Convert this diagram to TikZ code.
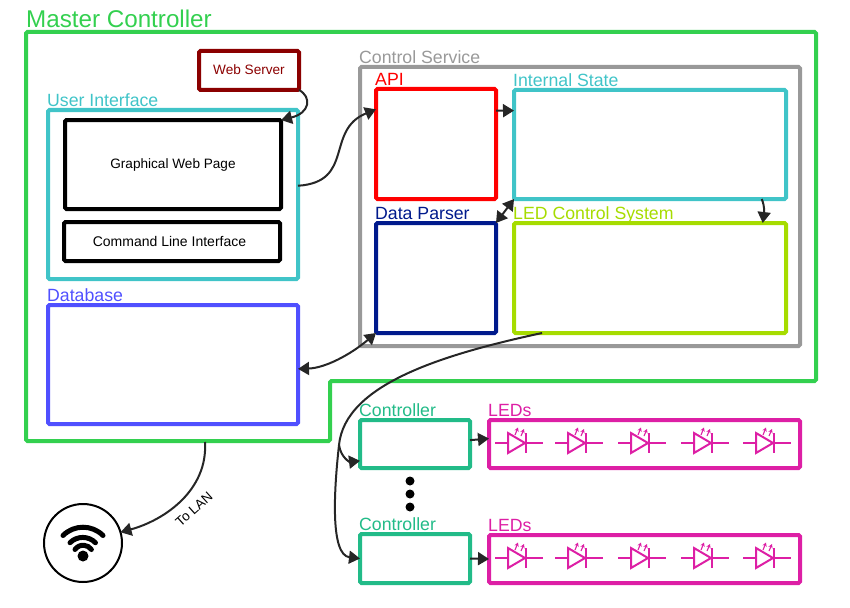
\documentclass[tikz,border=0pt]{standalone}
\usepackage{fontspec}
\setmainfont{Liberation Sans}
\usetikzlibrary{arrows.meta}

\definecolor{mastergreen}{HTML}{33D04F}
\definecolor{uiteal}{HTML}{40C4C8}
\definecolor{dbblue}{HTML}{5050FF}
\definecolor{svcgray}{HTML}{999999}
\definecolor{parsernavy}{HTML}{001A8C}
\definecolor{ledlime}{HTML}{A6DC00}
\definecolor{ctrlgreen}{HTML}{22BB88}
\definecolor{ledpink}{HTML}{DD1FA5}
\definecolor{webred}{HTML}{8B0000}

\tikzset{
  box/.style = { draw, line width = 4pt, rounded corners = 1.5pt, inner sep = 0pt, outer sep = 0pt, align = center },
  lbl/.style = { anchor = base west, inner sep = 0pt, font = \fontsize{17.7}{18}\selectfont, xshift = -1pt, yshift = 3.5pt },
  link/.style = { draw = black!85, line width = 2pt, -{Triangle[length = 11pt, width = 13pt]} },
  twoway/.style = { link, {Triangle[length = 11pt, width = 13pt]}-{Triangle[length = 11pt, width = 13pt]} }
}

\newcommand{\ledsym}[2]{
  \begin{scope}[shift = {(#1,#2)}, draw = ledpink, line width = 2pt]
    \draw (0,0) -- (13,0);
    \draw (13,-10) -- (13,10) -- (30,0) -- cycle;
    \draw (31,-10) -- (31,10);
    \draw (31,0) -- (48,0);
    \draw [line width = 1.1pt, -{Stealth[length = 4pt, width = 4.5pt]}] (20,-8) -- (23,-15.5);
    \draw [line width = 1.1pt, -{Stealth[length = 4pt, width = 4.5pt]}] (26,-7) -- (29,-14);
  \end{scope}
}

\begin{document}
\begin{tikzpicture}[x = 1pt, y = -1pt]
    \useasboundingbox (0,0) rectangle (850,607);

    % master outline
    \draw [mastergreen, line width = 4pt, rounded corners = 1.5pt]
      (26,32) -- (816,32) -- (816,381) -- (330,381) -- (330,441) -- (26,441) -- cycle;
    \node [lbl, text = mastergreen, font = \fontsize{24.2}{25}\selectfont, xshift = 1pt, yshift = 1pt] (masterlbl) at (26,32) {Master Controller};
    \coordinate (masterfoot) at (205,442);

    % left column
    \node [box, draw = webred, text = webred, minimum width = 100pt, minimum height = 39pt, font = \fontsize{13.6}{14}\selectfont] (webserver) at (249,70.5) {\raisebox{1.5pt}{Web Server}};
    \node [box, draw = uiteal, minimum width = 250pt, minimum height = 169pt] (ui) at (173,194.5) {};
    \node [lbl, text = uiteal] (uilbl) at (ui.north west) {User Interface};
    \node [box, minimum width = 216pt, minimum height = 89pt, font = \fontsize{13.6}{14}\selectfont] (webpage) at (173,164.5) {\raisebox{1pt}{Graphical Web Page}};
    \node [box, minimum width = 216pt, minimum height = 39pt, font = \fontsize{14}{14}\selectfont] (cli) at (172,241.5) {\raisebox{1pt}{Command Line Interface}\hspace*{5pt}};
    \node [box, draw = dbblue, minimum width = 250pt, minimum height = 119pt] (database) at (173,364.5) {};
    \node [lbl, text = dbblue] (dblbl) at (database.north west) {Database};

    % control service
    \node [box, draw = svcgray, minimum width = 440pt, minimum height = 279pt] (service) at (580,206.5) {};
    \node [lbl, text = svcgray] (servicelbl) at (service.north west) {Control Service};
    \node [box, draw = red, minimum width = 120pt, minimum height = 110pt] (api) at (436,144) {};
    \node [lbl, text = red] (apilbl) at (api.north west) {API};
    \node [box, draw = uiteal, minimum width = 272pt, minimum height = 109pt] (state) at (650,144.5) {};
    \node [lbl, text = uiteal] (statelbl) at (state.north west) {Internal State};
    \node [box, draw = parsernavy, minimum width = 120pt, minimum height = 110pt] (parser) at (436,278) {};
    \node [lbl, text = parsernavy] (parserlbl) at (parser.north west) {Data Parser};
    \node [box, draw = ledlime, minimum width = 272pt, minimum height = 110pt] (ledctl) at (650,278) {};
    \node [lbl, text = ledlime] (ledctllbl) at (ledctl.north west) {LED Control System};

    % controllers and strips
    \node [box, draw = ctrlgreen, minimum width = 110pt, minimum height = 48pt] (ctrla) at (415,444) {};
    \node [lbl, text = ctrlgreen] (ctrlalbl) at (ctrla.north west) {Controller};
    \node [box, draw = ctrlgreen, minimum width = 110pt, minimum height = 49pt] (ctrlb) at (415,558.5) {};
    \node [lbl, text = ctrlgreen] (ctrlblbl) at (ctrlb.north west) {Controller};
    \node [box, draw = ledpink, minimum width = 311pt, minimum height = 48pt] (strana) at (644.5,444) {};
    \node [lbl, text = ledpink] (stranalbl) at (strana.north west) {LEDs};
    \node [box, draw = ledpink, minimum width = 311pt, minimum height = 48pt] (stranb) at (644.5,559) {};
    \node [lbl, text = ledpink] (stranblbl) at (stranb.north west) {LEDs};
    \foreach \ly in {443,558} {
      \foreach \lx in {495,555,618,681,743} {
        \ledsym{\lx}{\ly}
      }
    }

    \foreach \dy [count = \di] in {481,494,507} {
      \node [circle, fill = black, minimum size = 9pt, inner sep = 0pt] (dot\di) at (410,\dy) {};
    }

    % network
    \node [circle, draw, line width = 2pt, minimum size = 78pt, inner sep = 0pt, outer sep = 0pt] (lan) at (83,543) {};
    \fill (83,556) circle (5.5pt);
    \draw [line width = 5pt, line cap = round] (75,549.5) arc (145:35:10pt);
    \draw [line width = 5pt, line cap = round] (70,542.7) arc (135:45:18pt);
    \draw [line width = 5pt, line cap = round] (63,535.5) arc (135:45:28.3pt);

    % connectors
    \draw [link] (webserver.south east) .. controls (312,97) and (310,113) .. (webpage.north east);
    \draw [link] (ui.4) .. controls (355,182) and (325,130) .. (api.150);
    \draw [link] (api.29) -- (state.166);
    \draw [link] (state.-26) .. controls (765,207) and (764,213) .. (ledctl.26);
    \draw [twoway] (state.south west) -- (parser.north east);
    \draw [twoway] (parser.south west) .. controls (350,355) and (325,368) .. (database.-2);
    \coordinate (split) at (339,445);
    \draw [link] (ledctl.-153) .. controls (440,355) and (345,385) .. (split)
      .. controls (334,490) and (330,555) .. (ctrlb.west);
    \draw [link] (split) .. controls (341,458) and (350,462) .. (ctrla.197);
    \draw [link] (ctrla.4) -- (strana.178);
    \draw [link] (ctrlb.east) -- (stranb.west);
    \draw [link] (masterfoot) .. controls (208,490) and (165,520) .. (lan.16);
    \node [rotate = 42, font = \fontsize{13.5}{14}\selectfont, inner sep = 0pt] (lanlbl) at (194,509) {To LAN};
\end{tikzpicture}
\end{document}
